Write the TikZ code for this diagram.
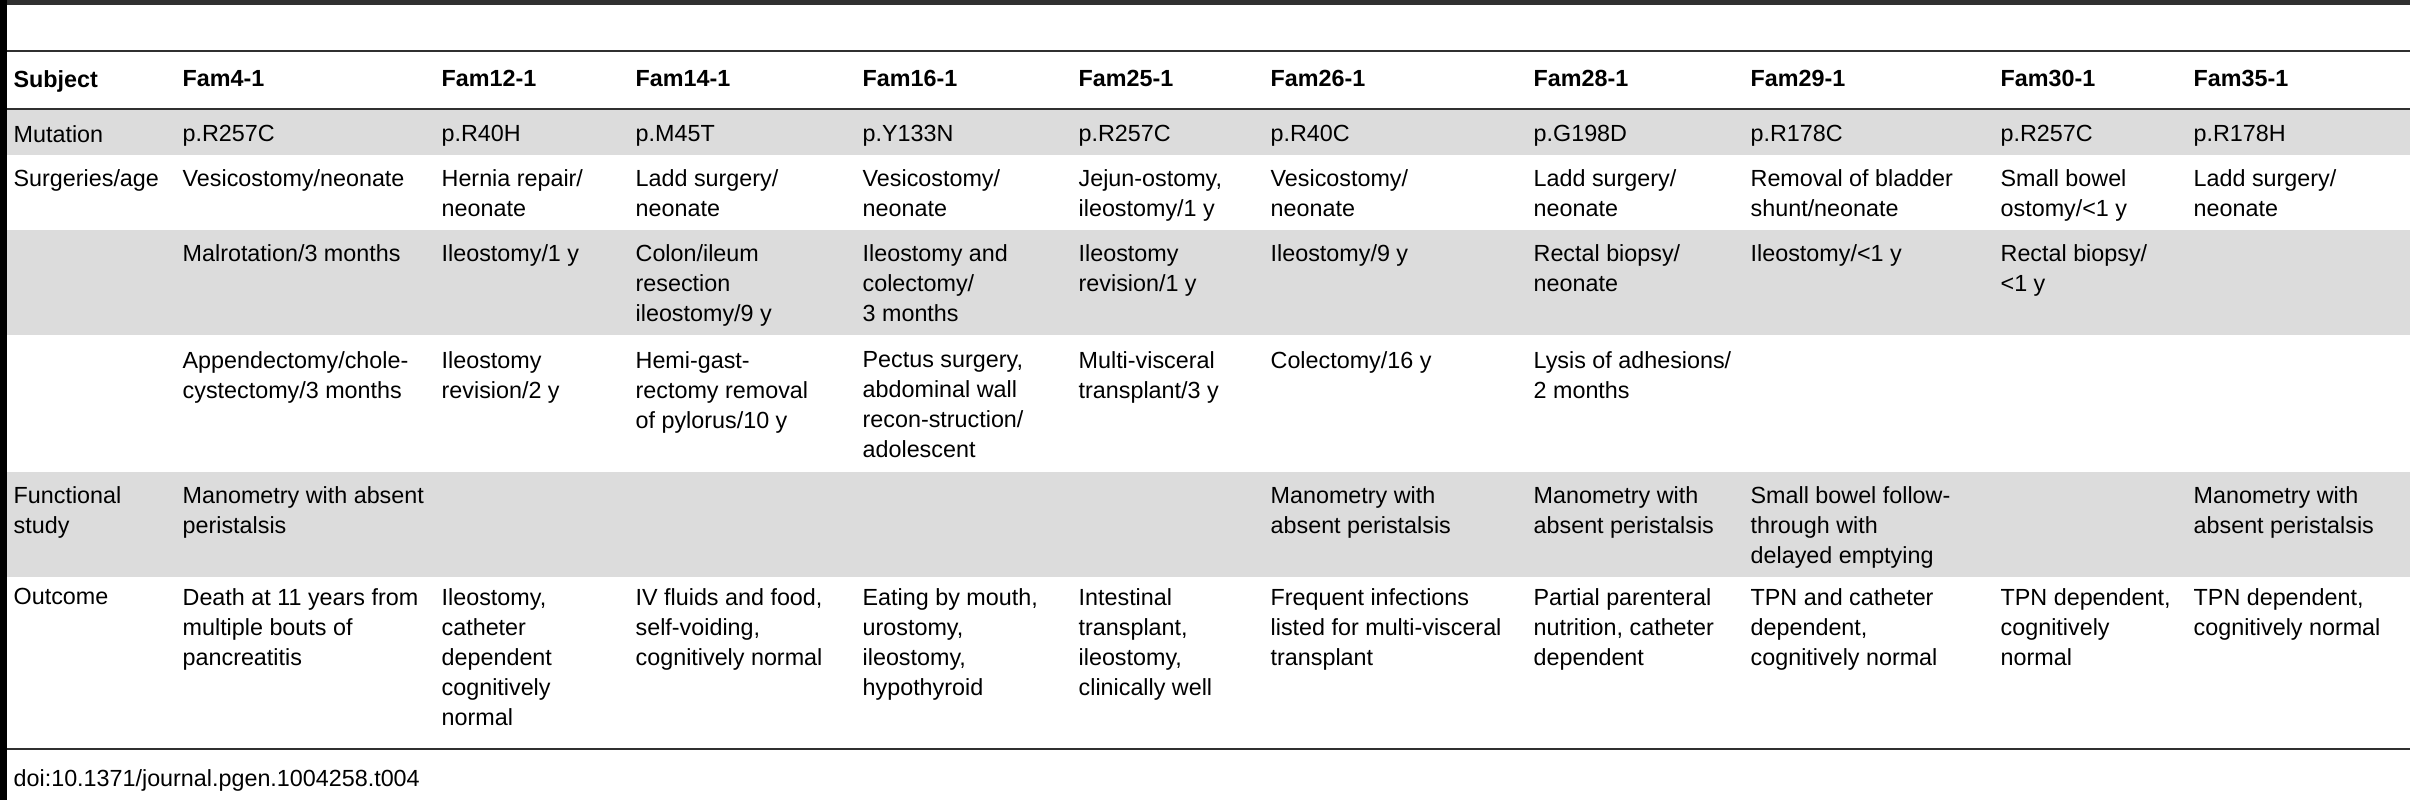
\documentclass[tikz,border=0pt]{standalone}
\usepackage{fontspec}
\setmainfont{Liberation Sans}
\usetikzlibrary{positioning}

\definecolor{bandgray}{HTML}{DCDCDC}
\definecolor{rulegray}{HTML}{303030}

\begin{document}
\begin{tikzpicture}[x=0.3pt, y=-0.3pt,
	cell/.style={anchor=north west, inner sep=0pt, align=left, font=\fontsize{7}{9}\selectfont},
	head/.style={cell, font=\fontsize{7}{9}\selectfont\bfseries}]
	\useasboundingbox (0,0) rectangle (2410,800);

	% bands and rules
	\fill[bandgray] (7,110) rectangle (2410,155);
	\fill[bandgray] (7,230) rectangle (2410,335);
	\fill[bandgray] (7,472) rectangle (2410,577);
	\fill[black] (0,0) rectangle (7,800);
	\fill[rulegray] (7,0) rectangle (2410,5);
	\draw[rulegray, line width=0.6pt] (7,51) -- (2410,51);
	\draw[rulegray, line width=0.6pt] (7,109) -- (2410,109);
	\draw[rulegray, line width=0.6pt] (7,749) -- (2410,749);

	% header
	\node (hsub) [head] at (13,70) {Subject};
	\node (h4) [head] at (182,70) {Fam4-1};
	\node (h12) [head] at (441,70) {Fam12-1};
	\node (h14) [head] at (635,70) {Fam14-1};
	\node (h16) [head] at (862,70) {Fam16-1};
	\node (h25) [head] at (1078,70) {Fam25-1};
	\node (h26) [head] at (1270,70) {Fam26-1};
	\node (h28) [head] at (1533,70) {Fam28-1};
	\node (h29) [head] at (1750,70) {Fam29-1};
	\node (h30) [head] at (2000,70) {Fam30-1};
	\node (h35) [head] at (2193,70) {Fam35-1};

	% mutation
	\node (msub) [cell] at (13,125) {Mutation};
	\node (m4) [cell] at (182,125) {p.R257C};
	\node (m12) [cell] at (441,125) {p.R40H};
	\node (m14) [cell] at (635,125) {p.M45T};
	\node (m16) [cell] at (862,125) {p.Y133N};
	\node (m25) [cell] at (1078,125) {p.R257C};
	\node (m26) [cell] at (1270,125) {p.R40C};
	\node (m28) [cell] at (1533,125) {p.G198D};
	\node (m29) [cell] at (1750,125) {p.R178C};
	\node (m30) [cell] at (2000,125) {p.R257C};
	\node (m35) [cell] at (2193,125) {p.R178H};

	% surgeries, first
	\node (ssub) [cell] at (13,169) {Surgeries/age};
	\node (sa4) [cell] at (182,169) {Vesicostomy/neonate};
	\node (sa12) [cell] at (441,169) {Hernia repair/\\neonate};
	\node (sa14) [cell] at (635,169) {Ladd surgery/\\neonate};
	\node (sa16) [cell] at (862,169) {Vesicostomy/\\neonate};
	\node (sa25) [cell] at (1078,169) {Jejun-ostomy,\\ileostomy/1 y};
	\node (sa26) [cell] at (1270,169) {Vesicostomy/\\neonate};
	\node (sa28) [cell] at (1533,169) {Ladd surgery/\\neonate};
	\node (sa29) [cell] at (1750,169) {Removal of bladder\\shunt/neonate};
	\node (sa30) [cell] at (2000,169) {Small bowel\\ostomy/<1 y};
	\node (sa35) [cell] at (2193,169) {Ladd surgery/\\neonate};

	% surgeries, second
	\node (sb4) [cell] at (182,244) {Malrotation/3 months};
	\node (sb12) [cell] at (441,244) {Ileostomy/1 y};
	\node (sb14) [cell] at (635,244) {Colon/ileum\\resection\\ileostomy/9 y};
	\node (sb16) [cell] at (862,244) {Ileostomy and\\colectomy/\\3 months};
	\node (sb25) [cell] at (1078,244) {Ileostomy\\revision/1 y};
	\node (sb26) [cell] at (1270,244) {Ileostomy/9 y};
	\node (sb28) [cell] at (1533,244) {Rectal biopsy/\\neonate};
	\node (sb29) [cell] at (1750,244) {Ileostomy/<1 y};
	\node (sb30) [cell] at (2000,244) {Rectal biopsy/\\<1 y};

	% surgeries, third
	\node (sc4) [cell] at (182,351) {Appendectomy/chole-\\cystectomy/3 months};
	\node (sc12) [cell] at (441,351) {Ileostomy\\revision/2 y};
	\node (sc14) [cell] at (635,351) {Hemi-gast-\\rectomy removal\\of pylorus/10 y};
	\node (sc16) [cell] at (862,351) {Pectus surgery,\\abdominal wall\\recon-struction/\\adolescent};
	\node (sc25) [cell] at (1078,351) {Multi-visceral\\transplant/3 y};
	\node (sc26) [cell] at (1270,351) {Colectomy/16 y};
	\node (sc28) [cell] at (1533,351) {Lysis of adhesions/\\2 months};

	% functional study
	\node (fsub) [cell] at (13,486) {Functional\\study};
	\node (f4) [cell] at (182,486) {Manometry with absent\\peristalsis};
	\node (f26) [cell] at (1270,486) {Manometry with\\absent peristalsis};
	\node (f28) [cell] at (1533,486) {Manometry with\\absent peristalsis};
	\node (f29) [cell] at (1750,486) {Small bowel follow-\\through with\\delayed emptying};
	\node (f35) [cell] at (2193,486) {Manometry with\\absent peristalsis};

	% outcome
	\node (osub) [cell] at (13,588) {Outcome};
	\node (o4) [cell] at (182,588) {Death at 11 years from\\multiple bouts of\\pancreatitis};
	\node (o12) [cell] at (441,588) {Ileostomy,\\catheter\\dependent\\cognitively\\normal};
	\node (o14) [cell] at (635,588) {IV fluids and food,\\self-voiding,\\cognitively normal};
	\node (o16) [cell] at (862,588) {Eating by mouth,\\urostomy,\\ileostomy,\\hypothyroid};
	\node (o25) [cell] at (1078,588) {Intestinal\\transplant,\\ileostomy,\\clinically well};
	\node (o26) [cell] at (1270,588) {Frequent infections\\listed for multi-visceral\\transplant};
	\node (o28) [cell] at (1533,588) {Partial parenteral\\nutrition, catheter\\dependent};
	\node (o29) [cell] at (1750,588) {TPN and catheter\\dependent,\\cognitively normal};
	\node (o30) [cell] at (2000,588) {TPN dependent,\\cognitively\\normal};
	\node (o35) [cell] at (2193,588) {TPN dependent,\\cognitively normal};

	\node (doi) [cell] at (13,769) {doi:10.1371/journal.pgen.1004258.t004};
\end{tikzpicture}
\end{document}
